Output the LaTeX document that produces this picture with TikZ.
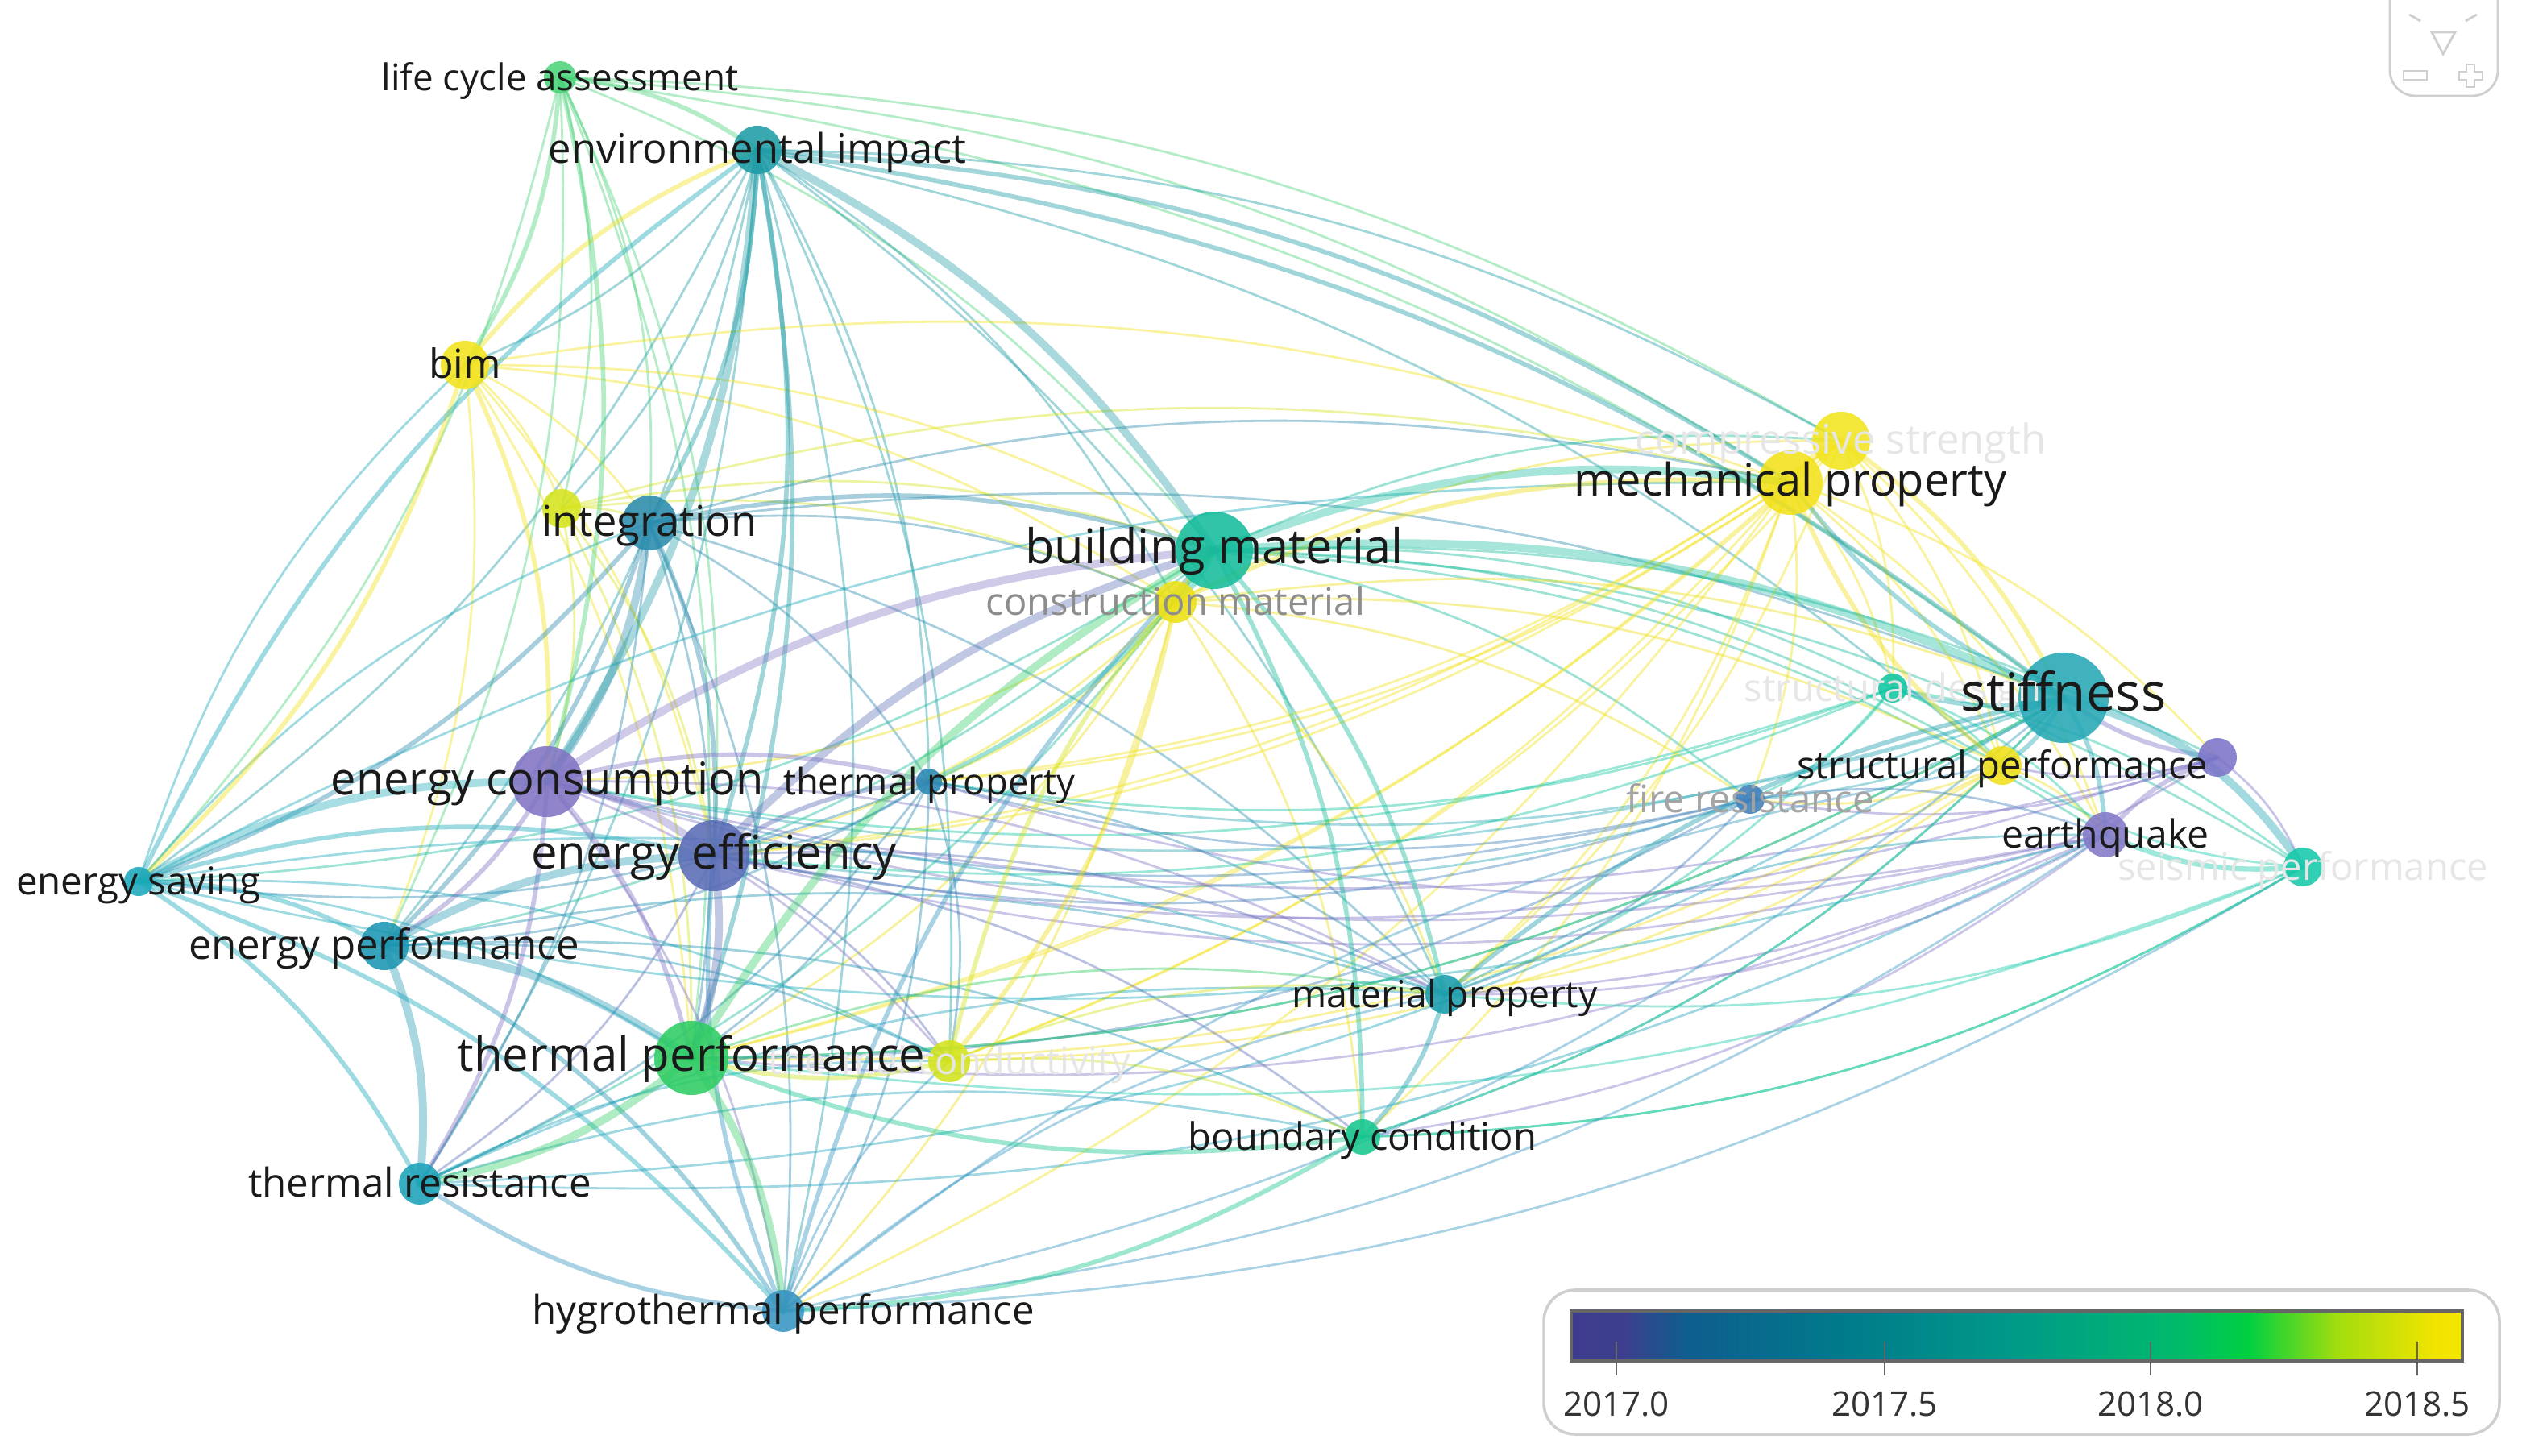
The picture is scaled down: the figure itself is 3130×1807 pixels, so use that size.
\documentclass[tikz,border=0pt]{standalone}
\usepackage{fontspec}
\setmainfont{Open Sans}
\definecolor{c-lca}{HTML}{4CD37A}
\definecolor{c-env}{HTML}{1E9CA6}
\definecolor{c-bim}{HTML}{F2E31C}
\definecolor{c-yel}{HTML}{D6E41E}
\definecolor{c-int}{HTML}{2B8CAE}
\definecolor{c-bm}{HTML}{16BC9C}
\definecolor{c-cm}{HTML}{EDE016}
\definecolor{c-mp}{HTML}{F3E11A}
\definecolor{c-cs}{HTML}{F2E41E}
\definecolor{c-stf}{HTML}{25A8B5}
\definecolor{c-sd}{HTML}{12C7A2}
\definecolor{c-sp}{HTML}{F1E01A}
\definecolor{c-pur}{HTML}{7C74C8}
\definecolor{c-fr}{HTML}{3F7FBA}
\definecolor{c-eq}{HTML}{8478C8}
\definecolor{c-sei}{HTML}{15C9A9}
\definecolor{c-ec}{HTML}{8274C4}
\definecolor{c-tp}{HTML}{2A88B2}
\definecolor{c-ee}{HTML}{5B6CB6}
\definecolor{c-es}{HTML}{1AA9BA}
\definecolor{c-ep}{HTML}{1C96B2}
\definecolor{c-tpf}{HTML}{2ECC63}
\definecolor{c-tc}{HTML}{D3E41C}
\definecolor{c-mat}{HTML}{1A9DAE}
\definecolor{c-bc}{HTML}{17C78F}
\definecolor{c-tr}{HTML}{1CA2BA}
\definecolor{c-hyg}{HTML}{3694C2}
\definecolor{lblblack}{HTML}{1A1A1A}
\definecolor{lblfaint}{HTML}{E6E6E6}
\definecolor{lblgrey}{HTML}{8D8D8D}
\definecolor{iconc}{HTML}{CFCFCF}
\newcommand\lblsz[1]{\fontsize{#1}{#1}\selectfont}
\tikzset{
  edge/.style={opacity=.42, line cap=round},
  bubble/.style={circle, inner sep=0pt, fill opacity=.88, draw=none},
  lbl/.style={inner sep=0pt, text height=.92em, text depth=0em, text=lblblack},
}
\begin{document}
\begin{tikzpicture}[x=0.01cm,y=-0.01cm]
\useasboundingbox (0,0) rectangle (3130,1807);
\fill[white] (0,0) rectangle (3130,1807);
% positions
\coordinate (lca) at (695,96);
\coordinate (env) at (940,186);
\coordinate (bim) at (577,453);
\coordinate (yel) at (697,631);
\coordinate (int) at (806,649);
\coordinate (bm) at (1507,683);
\coordinate (cm) at (1459,747);
\coordinate (mp) at (2222,599);
\coordinate (cs) at (2285,547);
\coordinate (stf) at (2561,866);
\coordinate (sd) at (2349,854);
\coordinate (sp) at (2485,950);
\coordinate (pur) at (2752,940);
\coordinate (fr) at (2172,992);
\coordinate (eq) at (2613,1036);
\coordinate (sei) at (2858,1076);
\coordinate (ec) at (679,970);
\coordinate (tp) at (1153,970);
\coordinate (ee) at (886,1062);
\coordinate (es) at (172,1094);
\coordinate (ep) at (477,1174);
\coordinate (tpf) at (858,1313);
\coordinate (tc) at (1178,1317);
\coordinate (mat) at (1793,1234);
\coordinate (bc) at (1691,1411);
\coordinate (tr) at (521,1469);
\coordinate (hyg) at (972,1627);
% thin edges
\foreach \a/\b in {lca/int,lca/bm,lca/tpf,lca/ee,lca/mp,lca/cs,lca/es,lca/ep,lca/yel,lca/stf,
  env/es,env/ep,env/tr,env/hyg,env/cs,env/tp,env/yel,env/tc,env/mat,env/cm,env/sp,env/bim,
  bim/int,bim/ee,bim/tpf,bim/bm,bim/mp,bim/cm,bim/yel,bim/ep,
  yel/int,yel/ec,yel/ee,yel/bm,yel/tpf,yel/cm,yel/mp,
  int/tpf,int/tr,int/hyg,int/tp,int/mat,int/mp,int/stf,int/cm,
  bm/es,bm/ep,bm/tr,bm/fr,bm/sp,bm/eq,bm/cs,bm/sd,bm/sei,bm/pur,
  cm/ee,cm/tpf,cm/ec,cm/tp,cm/mat,cm/stf,cm/sp,cm/hyg,cm/cs,cm/fr,cm/bc,
  mp/tp,mp/ee,mp/tpf,mp/mat,mp/sd,mp/sp,mp/eq,mp/fr,mp/tc,mp/bc,mp/hyg,mp/pur,
  cs/tp,cs/tpf,cs/sp,cs/sd,cs/tc,cs/mat,cs/ee,cs/eq,
  stf/tp,stf/fr,stf/bc,stf/ee,stf/tpf,stf/ec,
  sd/mat,sd/fr,sd/ee,sd/tp,sd/sp,sd/eq,sd/sei,sd/ec,
  sp/mat,sp/fr,sp/eq,sp/tc,sp/tpf,
  pur/sp,pur/mat,pur/ee,pur/fr,pur/ec,pur/sei,
  fr/mat,fr/ee,fr/tp,fr/eq,fr/tpf,fr/ec,
  eq/mat,eq/ee,eq/tp,eq/bc,eq/tpf,eq/ec,
  sei/mat,sei/bc,sei/tpf,sei/sp,
  ec/hyg,ec/tc,ec/mat,
  tp/tpf,tp/ee,tp/ep,tp/tr,tp/hyg,tp/mat,tp/tc,tp/es,
  ee/tc,ee/tr,ee/mat,ee/bc,
  es/tpf,es/tc,es/mat,
  ep/tc,ep/mat,ep/bc,
  tpf/mat,tr/tc,tr/bc,tr/mat,hyg/tc,hyg/mat,hyg/sp,tc/mat,tc/bc,mat/eq,
  es/mp,es/int,es/bim}
  \draw[edge, line width=0.8pt, draw=c-\a] (\a) to[bend left=14] (\b);
% long lower arcs
\foreach \a/\b in {tr/stf,hyg/stf,hyg/sei,bc/sei,tr/eq,hyg/eq,tpf/stf,bc/stf,es/eq}
  \draw[edge, line width=0.8pt, draw=c-\a] (\a) to[bend right=14] (\b);
% medium edges
\foreach \a/\b in {es/ee,es/ep,es/tr,ec/ep,ec/tpf,ec/tr,int/ee,int/bm,env/int,env/ee,env/tpf,
  lca/env,bim/env,lca/bim,hyg/tr,hyg/ee,hyg/bm,bm/cm,bm/tp,bm/mat,bm/bc,cm/mp,cm/tc,tc/tpf,
  tc/bm,mat/bc,bc/tpf,bc/hyg,stf/eq,stf/sp,stf/mp,stf/sd,eq/pur,sp/mp,pur/stf,cs/stf,
  mat/stf,ec/tp,ee/tp,env/mp,env/stf,lca/ec,bim/es,bim/ec,int/es,int/ep,ep/hyg,es/hyg,es/env}
  \draw[edge, line width=1.6pt, draw=c-\a] (\a) to[bend left=14] (\b);
\draw[edge, line width=1.8pt, draw=c-sei] (sei) to[bend left=14] (eq);
% thick edges
\foreach \a/\b in {ec/ee,es/ec,int/ec,ec/bm,env/bm,bm/stf,bm/mp,ee/tpf,ep/ee,ep/tr,tpf/tr,
  tpf/hyg,mp/cs,env/ec,ee/bm,tpf/bm,ep/tpf}
  \draw[edge, line width=2.8pt, draw=c-\a, opacity=.38] (\a) to[bend left=14] (\b);
\draw[edge, line width=2.8pt, draw=c-stf] (stf) to[bend left=20] (sei);
% bubbles
\foreach \n/\r in {lca/20,env/30,bim/30,yel/24,int/34,bm/48,cm/26,mp/40,cs/36,stf/56,sd/18,
  sp/24,pur/24,fr/18,eq/28,sei/24,ec/44,tp/16,ee/44,es/18,ep/30,tpf/46,tc/26,mat/24,bc/22,tr/26,hyg/26}
  \node[bubble, fill=c-\n, minimum size={2*\r*0.2845pt}] (\n-c) at (\n) {};
% labels
\node[lbl, font=\lblsz{13}] (lca-l) at (lca) {life cycle assessment};
\node[lbl, font=\lblsz{14.4}] (env-l) at (env) {environmental impact};
\node[lbl, font=\lblsz{14.2}] (bim-l) at (bim) {bim};
\node[lbl, font=\lblsz{14.9}] (int-l) at (int) {integration};
\node[lbl, font=\lblsz{13.4}, text=lblgrey] (cm-l) at (cm) {construction material};
\node[lbl, font=\lblsz{16.9}] (bm-l) at (bm) {building material};
\node[lbl, font=\lblsz{14.5}, text=lblfaint] (cs-l) at (cs) {compressive strength};
\node[lbl, font=\lblsz{15.9}] (mp-l) at (mp) {mechanical property};
\node[lbl, font=\lblsz{13.4}, text=lblfaint] (sd-l) at (sd) {structural design};
\node[lbl, font=\lblsz{18.6}] (stf-l) at (stf) {stiffness};
\node[lbl, font=\lblsz{13.4}, text=lblgrey!80] (fr-l) at (fr) {fire resistance};
\node[lbl, font=\lblsz{13.4}] (sp-l) at (sp) {structural performance};
\node[lbl, font=\lblsz{13.7}] (eq-l) at (eq) {earthquake};
\node[lbl, font=\lblsz{13.4}, text=lblfaint] (sei-l) at (sei) {seismic performance};
\node[lbl, font=\lblsz{13.4}, text=lblfaint] (tc-l) at (tc) {thermal conductivity};
\node[lbl, font=\lblsz{12.9}] (tp-l) at (tp) {thermal property};
\node[lbl, font=\lblsz{15.9}] (ec-l) at (ec) {energy consumption};
\node[lbl, font=\lblsz{16.5}] (ee-l) at (ee) {energy efficiency};
\node[lbl, font=\lblsz{13.5}] (es-l) at (es) {energy saving};
\node[lbl, font=\lblsz{14.5}] (ep-l) at (ep) {energy performance};
\node[lbl, font=\lblsz{16.5}] (tpf-l) at (tpf) {thermal performance};
\node[lbl, font=\lblsz{13.2}] (mat-l) at (mat) {material property};
\node[lbl, font=\lblsz{13.4}] (bc-l) at (bc) {boundary condition};
\node[lbl, font=\lblsz{14}] (tr-l) at (tr) {thermal resistance};
\node[lbl, font=\lblsz{14}] (hyg-l) at (hyg) {hygrothermal performance};
% colour bar legend
\draw[draw=iconc, line width=1pt, rounded corners=11pt, fill=white] (1916,1601) rectangle (3102,1780);
\foreach \xa/\xb/\ca/\cb in {1950/2016/3E3B8E/3D3F8E, 2016/2094/3D3F8E/0E5E8E, 2094/2282/0E5E8E/007A8B,
  2282/2503/007A8B/009A88, 2503/2702/009A88/00BA6C, 2702/2791/00BA6C/00D040,
  2791/2901/00D040/A3DD0E, 2901/3023/A3DD0E/F2E400, 3023/3056/F2E400/F5E600}{
  \definecolor{ga}{HTML}{\ca}\definecolor{gb}{HTML}{\cb}
  \shade[left color=ga, right color=gb] (\xa,1627) rectangle (\xb+0.5,1689);
}
\draw[draw=gray!80!black, line width=1pt] (1950,1627) rectangle (3056,1689);
\foreach \x/\t in {2006/2017.0, 2339/2017.5, 2669/2018.0, 3000/2018.5}{
  \draw[gray!80!black, line width=0.8pt] (\x,1665) -- (\x,1707);
  \node[font=\lblsz{12}, text=black!80, inner sep=0pt] (tick-\x) at (\x,1742) {\t};
}
% view control icon
\draw[draw=iconc, line width=0.8pt, rounded corners=9pt] (2966,-40) rectangle (3100,119);
\draw[draw=iconc, line width=0.8pt] (3018,40) -- (3047,40) -- (3032,67) -- cycle;
\draw[draw=iconc, line width=0.8pt] (2990,18) -- (3004,26);
\draw[draw=iconc, line width=0.8pt] (3060,26) -- (3074,18);
\draw[draw=iconc, line width=0.8pt] (2983,88) rectangle (3012,99);
\draw[draw=iconc, line width=0.8pt] (3061,80) -- (3071,80) -- (3071,89) -- (3081,89) -- (3081,99)
  -- (3071,99) -- (3071,108) -- (3061,108) -- (3061,99) -- (3052,99) -- (3052,89) -- (3061,89) -- cycle;
\end{tikzpicture}
\end{document}
